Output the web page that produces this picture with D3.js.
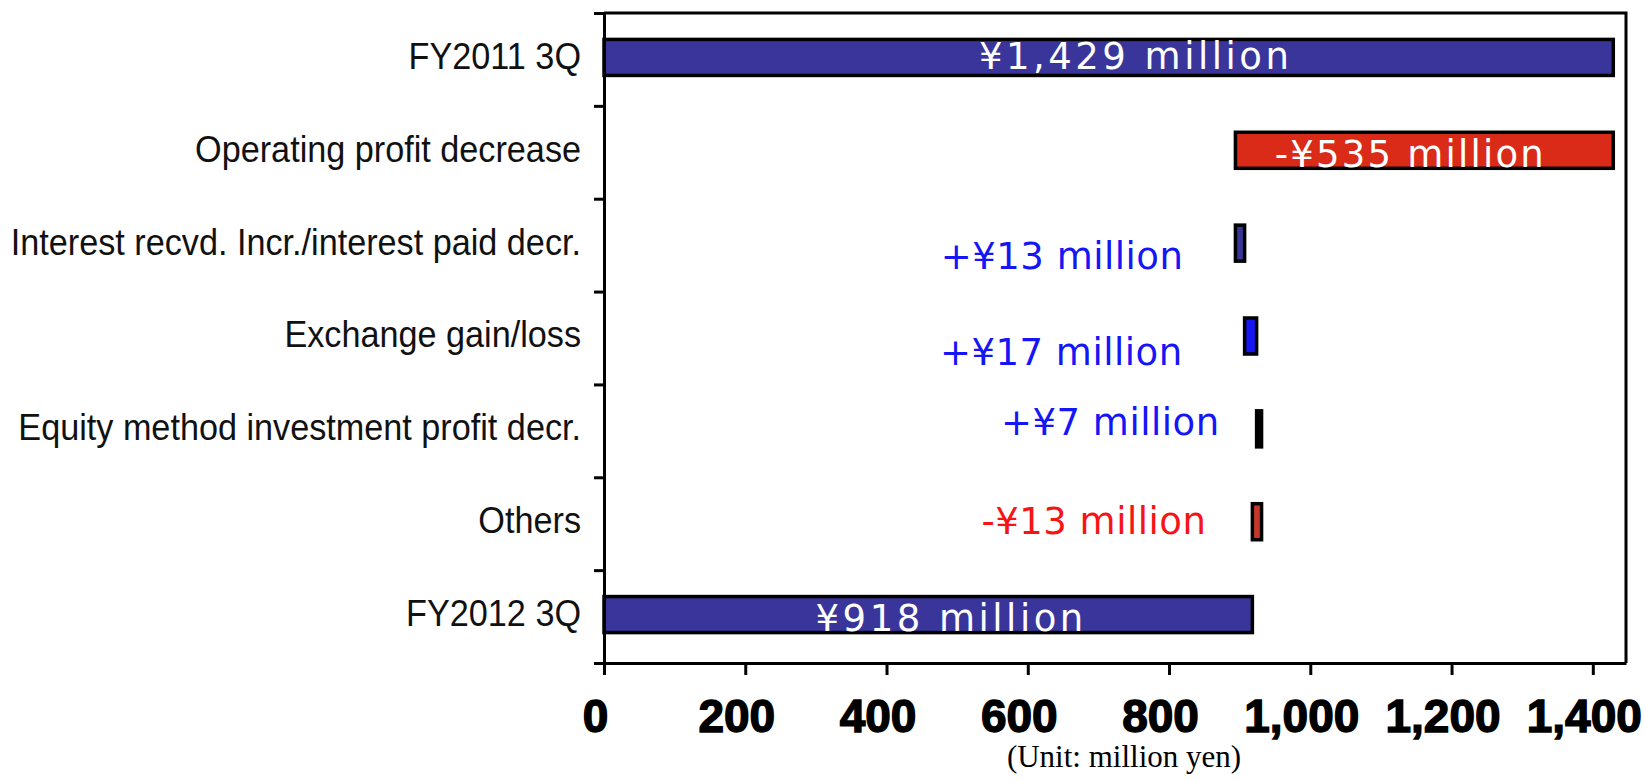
<!DOCTYPE html>
<html>
<head>
<meta charset="utf-8">
<script src="https://cdn.jsdelivr.net/npm/d3@7"></script>
<style>
  html, body { margin: 0; padding: 0; background: #ffffff; }
  svg { display: block; }
</style>
</head>
<body>
<svg id="chart" width="1645" height="781"></svg>
<script>
// Ordinary profit bridge, FY2011 3Q -> FY2012 3Q (million yen)
const categories = [
  "FY2011 3Q",
  "Operating profit decrease",
  "Interest recvd. Incr./interest paid decr.",
  "Exchange gain/loss",
  "Equity method investment profit decr.",
  "Others",
  "FY2012 3Q"
];
const changes = [1429, -535, 13, 17, 7, -13, 918];
const barKinds = ["total", "delta", "delta", "delta", "delta", "delta", "total"];
const valueLabels = [
  "¥1,429 million",
  "-¥535 million",
  "+¥13 million",
  "+¥17 million",
  "+¥7 million",
  "-¥13 million",
  "¥918 million"
];
const xTickValues = [0, 200, 400, 600, 800, 1000, 1200, 1400];
const unitLabel = "(Unit: million yen)";

// Styling per row
const barFills = ["#39359a", "#da2a18", "#3a3699", "#1616f2", "#000000", "#c8382a", "#39359a"];
// where each value label sits: inside the bar (white) or left of it (coloured)
const labelStyle = [
  { inside: true,  dx: 27,  dy: 10, color: "#ffffff", spacing: 3.5 },
  { inside: true,  dx: -14, dy: 15, color: "#ffffff", spacing: 2.2 },
  { inside: false, dx: -52, dy: 24, color: "#1515f5", spacing: 0.5 },
  { inside: false, dx: -62, dy: 27, color: "#1515f5", spacing: 0.5 },
  { inside: false, dx: -37, dy: 4,  color: "#1515f5", spacing: 0.5 },
  { inside: false, dx: -46, dy: 10, color: "#f51515", spacing: 0.5 },
  { inside: true,  dx: 23,  dy: 14, color: "#ffffff", spacing: 3.5 }
];

// Build waterfall segments
let running = 0;
const segments = categories.map((c, i) => {
  let lo, hi;
  if (barKinds[i] === "total") {
    running = changes[i];
    lo = 0; hi = changes[i];
  } else {
    const start = running;
    running += changes[i];
    lo = Math.min(start, running);
    hi = Math.max(start, running);
  }
  return { category: c, lo, hi, label: valueLabels[i], i };
});

const svg = d3.select("#chart");
const plotLeft = 604, plotRight = 1626, plotTop = 13, plotBottom = 663;

const x = d3.scaleLinear().domain([0, 1447]).range([plotLeft, plotRight]);
const y = d3.scaleBand().domain(categories).range([plotTop, plotBottom])
  .paddingInner(0.612).paddingOuter(0.306);

// Bars
svg.append("g").selectAll("rect")
  .data(segments)
  .join("rect")
  .attr("x", d => x(d.lo))
  .attr("y", d => y(d.category) - 2)
  .attr("width", d => x(d.hi) - x(d.lo))
  .attr("height", y.bandwidth())
  .attr("fill", d => barFills[d.i])
  .attr("stroke", "#000")
  .attr("stroke-width", 3.5);

// Value labels
svg.append("g").selectAll("text")
  .data(segments)
  .join("text")
  .attr("x", d => {
    const s = labelStyle[d.i];
    return s.inside ? (x(d.lo) + x(d.hi)) / 2 + s.dx : x(d.lo) + s.dx;
  })
  .attr("y", d => y(d.category) + y.bandwidth() / 2 + labelStyle[d.i].dy)
  .attr("text-anchor", d => labelStyle[d.i].inside ? "middle" : "end")
  .attr("fill", d => labelStyle[d.i].color)
  .attr("font-family", "'DejaVu Sans', sans-serif")
  .attr("font-size", 37)
  .attr("letter-spacing", d => labelStyle[d.i].spacing)
  .text(d => d.label);

// Left axis: category names (narrow face, slightly condensed)
const yAxis = svg.append("g")
  .attr("transform", `translate(${plotLeft},0)`)
  .call(d3.axisLeft(y).tickSize(0).tickPadding(23));
yAxis.select(".domain").remove();
yAxis.selectAll("text")
  .attr("font-family", "'Liberation Sans', Arial, sans-serif")
  .attr("font-size", 36)
  .attr("fill", "#111")
  .attr("dy", "0.26em")
  .each(function () {
    const w = this.getComputedTextLength();
    d3.select(this)
      .attr("textLength", w * 0.95)
      .attr("lengthAdjust", "spacingAndGlyphs");
  });

// Left axis line with ticks at row boundaries
const rowEdge = d3.scaleLinear().domain([0, categories.length]).range([plotTop, plotBottom]);
const edgeAxis = svg.append("g")
  .attr("transform", `translate(${plotLeft},0)`)
  .call(d3.axisLeft(rowEdge)
    .tickValues(d3.range(categories.length + 1))
    .tickFormat("")
    .tickSize(10)
    .tickSizeOuter(0));
edgeAxis.select(".domain").attr("stroke", "#000").attr("stroke-width", 3);
edgeAxis.selectAll(".tick line").attr("stroke", "#000").attr("stroke-width", 3);

// Bottom axis
const xAxis = svg.append("g")
  .attr("transform", `translate(0,${plotBottom})`)
  .call(d3.axisBottom(x)
    .tickValues(xTickValues)
    .tickSize(12)
    .tickSizeOuter(0)
    .tickFormat(d3.format(",")));
xAxis.select(".domain").attr("stroke", "#000").attr("stroke-width", 3);
xAxis.selectAll(".tick line").attr("stroke", "#000").attr("stroke-width", 3);
xAxis.selectAll("text")
  .attr("y", 36)
  .attr("dx", -9)
  .attr("dy", "0.71em")
  .attr("font-family", "'Liberation Sans', Arial, sans-serif")
  .attr("font-weight", "bold")
  .attr("font-size", 46)
  .attr("fill", "#000")
  .attr("stroke", "#000")
  .attr("stroke-width", 1.4);

// Frame: top and right edges
svg.append("path")
  .attr("d", `M${plotLeft},${plotTop}H${plotRight}V${plotBottom}`)
  .attr("fill", "none")
  .attr("stroke", "#000")
  .attr("stroke-width", 3);

// Unit note
svg.append("text")
  .attr("x", 1124)
  .attr("y", 767)
  .attr("text-anchor", "middle")
  .attr("font-family", "'Liberation Serif', 'Times New Roman', serif")
  .attr("font-size", 31)
  .attr("fill", "#000")
  .text(unitLabel);
</script>
</body>
</html>
